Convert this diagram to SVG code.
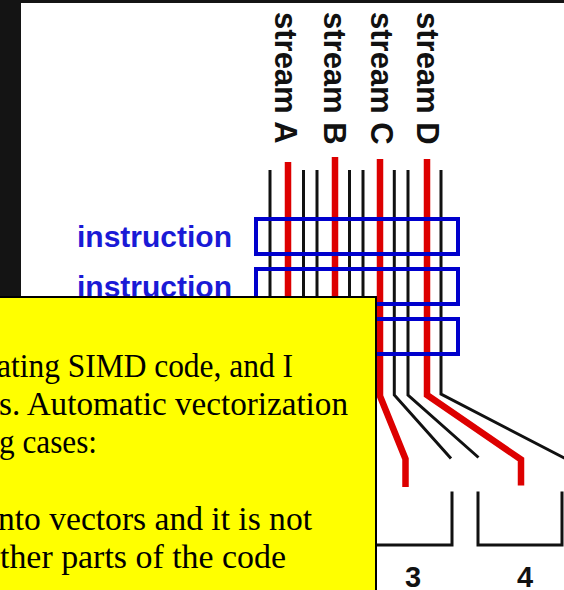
<svg xmlns="http://www.w3.org/2000/svg" width="564" height="590" viewBox="0 0 564 590">
<style>
.blk{fill:none;stroke:#111;stroke-width:3}
.red{fill:none;stroke:#dd0000;stroke-width:6.5}
.box{fill:none;stroke:#0000cc;stroke-width:4}
.lbl{font-family:"Liberation Sans",Arial,sans-serif;font-weight:bold;font-size:31px;fill:#111}
.num{font-family:"Liberation Sans",Arial,sans-serif;font-weight:bold;font-size:29px;fill:#111}
.ins{font-family:"Liberation Sans",Arial,sans-serif;font-weight:bold;font-size:30px;fill:#1a1ad6}
.note{font-family:"Liberation Serif","Times New Roman",serif;font-size:33px;fill:#000}
</style>
<rect x="0" y="0" width="564" height="590" fill="#ffffff"/>
<rect x="0" y="0" width="21" height="300" fill="#141414"/>
<rect x="0" y="0" width="564" height="3" fill="#141414"/>

<g id="stream-labels">
<text class="lbl" transform="translate(275,12) rotate(90)">stream A</text>
<text class="lbl" transform="translate(324,12) rotate(90)">stream B</text>
<text class="lbl" transform="translate(371,12) rotate(90)">stream C</text>
<text class="lbl" transform="translate(417,12) rotate(90)">stream D</text>
</g>

<g id="connectors">
<path class="blk" d="M270 170 V400"/>
<path class="red" d="M288 162 V400"/>
<path class="blk" d="M303.5 170 V400"/>
<path class="blk" d="M317 170 V400"/>
<path class="red" d="M335 157 V400"/>
<path class="blk" d="M349.5 170 V400"/>
<path class="blk" d="M363 170 V400"/>
<path class="red" d="M380 159 V396 L405.5 459 V487"/>
<path class="blk" d="M394.3 170 V395 L451 458.5"/>
<path class="blk" d="M408 170 V395 L478.5 457.5"/>
<path class="red" d="M427 159 V395 L521 459.5 V485.5"/>
<path class="blk" d="M441 170 V394 L568 460"/>
</g>

<g id="instruction-1">
<rect class="box" x="256" y="219" width="202" height="35"/>
<text class="ins" x="77" y="246.5">instruction</text>
</g>
<g id="instruction-2">
<rect class="box" x="256" y="269" width="202" height="35"/>
<text class="ins" x="77" y="296.5">instruction</text>
</g>
<g id="instruction-3">
<rect class="box" x="256" y="319" width="202" height="35"/>
</g>

<g id="bracket-3">
<path class="blk" d="M360 545 H452 V491.5"/>
<text class="num" x="413" y="587" text-anchor="middle">3</text>
</g>
<g id="bracket-4">
<path class="blk" d="M478 491.5 V545 H562 V491.5"/>
<text class="num" x="525" y="587" text-anchor="middle">4</text>
</g>

<g id="note">
<rect x="-10" y="297" width="386" height="310" fill="#ffff00" stroke="#000" stroke-width="2"/>
<text class="note" x="-3" y="377" textLength="296" lengthAdjust="spacingAndGlyphs">ating SIMD code, and I</text>
<text class="note" x="-1" y="414.5" textLength="349" lengthAdjust="spacingAndGlyphs">s. Automatic vectorization</text>
<text class="note" x="-1" y="452.5" textLength="98" lengthAdjust="spacingAndGlyphs">g cases:</text>
<text class="note" x="-2" y="530" textLength="314" lengthAdjust="spacingAndGlyphs">nto vectors and it is not</text>
<text class="note" x="0" y="568" textLength="286" lengthAdjust="spacingAndGlyphs">ther parts of the code</text>
</g>
</svg>
